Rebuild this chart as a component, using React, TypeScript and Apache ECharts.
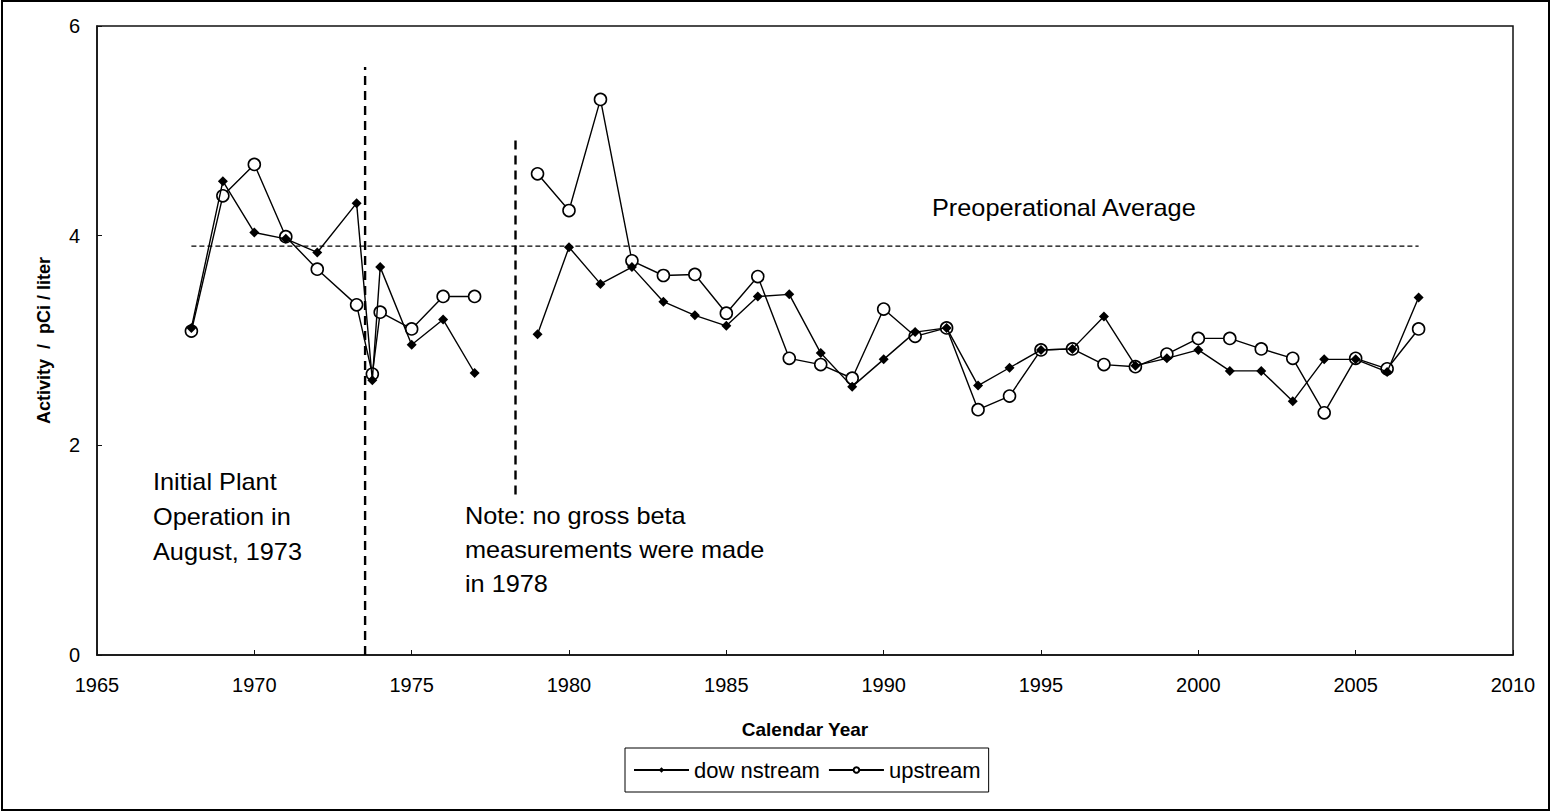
import React, { useEffect, useRef } from "react";
import * as echarts from "echarts";

const years: number[] = [
  1968, 1969, 1970, 1971, 1972, 1973.25, 1973.75, 1974, 1975, 1976, 1977, 1978,
  1979, 1980, 1981, 1982, 1983, 1984, 1985, 1986, 1987, 1988, 1989, 1990, 1991,
  1992, 1993, 1994, 1995, 1996, 1997, 1998, 1999, 2000, 2001, 2002, 2003, 2004,
  2005, 2006, 2007,
];

// null = no measurement (1978)
const downstream: (number | null)[] = [
  3.12, 4.52, 4.03, 3.97, 3.84, 4.31, 2.62, 3.7, 2.96, 3.2, 2.69, null,
  3.06, 3.89, 3.54, 3.7, 3.37, 3.24, 3.14, 3.42, 3.44, 2.88, 2.56, 2.82, 3.08,
  3.12, 2.57, 2.74, 2.91, 2.92, 3.23, 2.76, 2.83, 2.91, 2.71, 2.71, 2.42, 2.82,
  2.82, 2.7, 3.41,
];

const upstream: (number | null)[] = [
  3.09, 4.38, 4.68, 3.99, 3.68, 3.34, 2.68, 3.27, 3.11, 3.42, 3.42, null,
  4.59, 4.24, 5.3, 3.76, 3.62, 3.63, 3.26, 3.61, 2.83, 2.77, 2.64, 3.3, 3.04,
  3.12, 2.34, 2.47, 2.91, 2.92, 2.77, 2.75, 2.87, 3.02, 3.02, 2.92, 2.83, 2.31,
  2.83, 2.73, 3.11,
];

const preopAverage = 3.9;
const preopSpan = [1968, 2007];
const plantStartLine = { x: 1973.52, y0: 0, y1: 5.61 };
const noDataLine = { x: 1978.3, y0: 1.53, y1: 4.96 };

const xTicks = { min: 1965, max: 2010, interval: 5 };
const yTicks = { min: 0, max: 6, interval: 2 };

const FONT = "'Liberation Sans', Arial, sans-serif";

export default function App() {
  const ref = useRef<HTMLDivElement>(null);

  useEffect(() => {
    if (!ref.current) return;
    const chart = echarts.init(ref.current, undefined, { renderer: "svg" });

    const toPairs = (vals: (number | null)[]) =>
      years.map((y, i) => [y, vals[i] === null ? "-" : vals[i]]);

    const option: any = {
      animation: false,
      backgroundColor: "#fff",
      grid: {
        left: 97,
        right: 38,
        top: 26,
        bottom: 157,
        show: true,
        borderColor: "#111",
        borderWidth: 1.5,
        backgroundColor: "transparent",
      },
      xAxis: {
        type: "value",
        min: xTicks.min,
        max: xTicks.max,
        interval: xTicks.interval,
        name: "Calendar Year",
        nameLocation: "middle",
        nameGap: 65,
        nameTextStyle: {
          fontFamily: FONT,
          fontSize: 19,
          fontWeight: "bold",
          color: "#000",
        },
        axisLine: { show: true, lineStyle: { color: "#111", width: 1.5 } },
        axisTick: { show: true, inside: true, length: 5, lineStyle: { color: "#111" } },
        axisLabel: {
          fontFamily: FONT,
          fontSize: 20,
          color: "#000",
          margin: 20,
          formatter: (v: number) => String(v),
        },
        splitLine: { show: false },
      },
      yAxis: {
        type: "value",
        min: yTicks.min,
        max: yTicks.max,
        interval: yTicks.interval,
        name: "Activity  /  pCi / liter",
        nameLocation: "middle",
        nameGap: 44,
        nameTextStyle: {
          fontFamily: FONT,
          fontSize: 18,
          fontWeight: "bold",
          color: "#000",
        },
        axisLine: { show: true, lineStyle: { color: "#111", width: 1.5 } },
        axisTick: { show: true, inside: true, length: 5, lineStyle: { color: "#111" } },
        axisLabel: {
          fontFamily: FONT,
          fontSize: 20,
          color: "#000",
          margin: 17,
          formatter: (v: number) => String(v),
        },
        splitLine: { show: false },
      },
      legend: {
        data: ["dow nstream", "upstream"],
        left: 625,
        top: 748,
        orient: "horizontal",
        borderColor: "#000",
        borderWidth: 1,
        padding: [11, 8, 11, 8],
        itemWidth: 55,
        itemHeight: 7,
        itemGap: 8,
        textStyle: { fontFamily: FONT, fontSize: 22, color: "#000" },
      },
      series: [
        {
          name: "dow nstream",
          type: "line",
          data: toPairs(downstream),
          connectNulls: false,
          symbol: "diamond",
          symbolSize: 10,
          itemStyle: { color: "#000", borderColor: "#000", borderWidth: 0 },
          lineStyle: { color: "#000", width: 1.4 },
          z: 5,
        },
        {
          name: "upstream",
          type: "line",
          data: toPairs(upstream),
          connectNulls: false,
          symbol: "circle",
          symbolSize: 12,
          itemStyle: { color: "#fff", borderColor: "#000", borderWidth: 1.6 },
          lineStyle: { color: "#000", width: 1.4 },
          z: 4,
        },
        {
          name: "avg",
          type: "line",
          data: [
            [preopSpan[0], preopAverage],
            [preopSpan[1], preopAverage],
          ],
          symbol: "none",
          lineStyle: { color: "#000", width: 1.2, type: [5, 3] },
          z: 2,
          silent: true,
        },
        {
          name: "plantStart",
          type: "line",
          data: [
            [plantStartLine.x, plantStartLine.y0],
            [plantStartLine.x, plantStartLine.y1],
          ],
          symbol: "none",
          lineStyle: { color: "#000", width: 2.4, type: [9, 6] },
          z: 2,
          silent: true,
        },
        {
          name: "noData",
          type: "line",
          data: [
            [noDataLine.x, noDataLine.y0],
            [noDataLine.x, noDataLine.y1],
          ],
          symbol: "none",
          lineStyle: { color: "#000", width: 2.4, type: [9, 6] },
          z: 2,
          silent: true,
        },
      ],
      graphic: [
        {
          type: "rect",
          shape: { x: 2, y: 1, width: 1547, height: 809 },
          style: { fill: "none", stroke: "#000", lineWidth: 2 },
          silent: true,
          z: 100,
        },
        {
          type: "text",
          x: 153,
          y: 464,
          scaleX: 1.1,
          style: {
            text: "Initial Plant\nOperation in\nAugust, 1973",
            font: `23px ${FONT}`,
            fill: "#000",
            lineHeight: 35,
          },
        },
        {
          type: "text",
          x: 465,
          y: 499,
          scaleX: 1.1,
          style: {
            text: "Note: no gross beta\nmeasurements were made\nin 1978",
            font: `23px ${FONT}`,
            fill: "#000",
            lineHeight: 34,
          },
        },
        {
          type: "text",
          x: 932,
          y: 191,
          scaleX: 1.1,
          style: {
            text: "Preoperational Average",
            font: `23px ${FONT}`,
            fill: "#000",
            lineHeight: 34,
          },
        },
      ],
    };

    chart.setOption(option);
    return () => chart.dispose();
  }, []);

  return (
    <div
      ref={ref}
      style={{ position: "fixed", left: 0, top: 0, width: 1551, height: 812 }}
    />
  );
}
